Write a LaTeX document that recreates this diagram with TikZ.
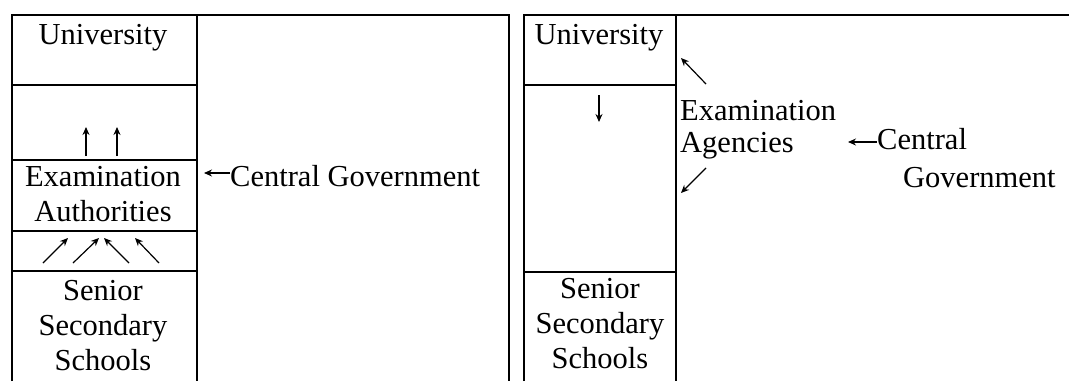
\documentclass[tikz,border=0pt]{standalone}
\usepackage{fontspec}
\setmainfont{Liberation Serif}
\usetikzlibrary{arrows.meta}
\begin{document}
\begin{tikzpicture}[x=1pt,y=-1pt,
  frame/.style={line width=1.7pt},
  lbl/.style={font=\fontsize{30.5}{35}\selectfont, inner sep=0pt, anchor=base},
  lblw/.style={lbl, anchor=base west},
  pointer/.style={line width=1.2pt, -{Stealth[length=8pt,width=7pt]}}]
\useasboundingbox (0,0) rectangle (1069,381);

% ---- left scheme: columns and cells ----
\draw[frame] (12,381) |- (509,15) -- (509,381);
\draw[frame] (197,15) -- (197,381);
\draw[frame] (12,85) -- (197,85);
\draw[frame] (12,160) -- (197,160);
\draw[frame] (12,231) -- (197,231);
\draw[frame] (12,271) -- (197,271);

\node[lbl] (uniL) at (103,44) {University};
\node[lbl] (examL) at (103,186) {Examination};
\node[lbl] (authL) at (103,221) {Authorities};
\node[lbl] (senL) at (103,300) {Senior};
\node[lbl] (secL) at (103,335) {Secondary};
\node[lbl] (schL) at (103,370) {Schools};
\node[lblw] (govL) at (230,186) {Central Government};

% upward flow to the university
\coordinate (u1a) at (86,156); \coordinate (u1b) at (86,127);
\coordinate (u2a) at (117,156); \coordinate (u2b) at (117,127);
\draw[pointer] (u1a) -- (u1b);
\draw[pointer] (u2a) -- (u2b);

% schools feeding the examination authorities
\coordinate (d1a) at (43,263);  \coordinate (d1b) at (68,238);
\coordinate (d2a) at (73,263);  \coordinate (d2b) at (99,238);
\coordinate (d3a) at (129,263); \coordinate (d3b) at (104,238);
\coordinate (d4a) at (159,263); \coordinate (d4b) at (135,238);
\draw[pointer] (d1a) -- (d1b);
\draw[pointer] (d2a) -- (d2b);
\draw[pointer] (d3a) -- (d3b);
\draw[pointer] (d4a) -- (d4b);

% central government acting on the authorities
\coordinate (gL) at (204,173);
\draw[pointer] (govL.west |- gL) -- (gL);

% ---- right scheme: columns and cells ----
\draw[frame] (524,381) |- (1069,15);
\draw[frame] (676,15) -- (676,381);
\draw[frame] (524,85) -- (676,85);
\draw[frame] (524,272) -- (676,272);

\node[lbl] (uniR) at (599,44) {University};
\node[lbl] (senR) at (600,298) {Senior};
\node[lbl] (secR) at (600,333) {Secondary};
\node[lbl] (schR) at (600,368) {Schools};
\node[lblw] (examR) at (680,120) {Examination};
\node[lblw] (agR) at (680,152) {Agencies};
\node[lblw] (cenR) at (877,149) {Central};
\node[lblw] (govR) at (903,187) {Government};

% university down to the schools
\coordinate (r0a) at (599,95); \coordinate (r0b) at (599,122);
\draw[pointer] (r0a) -- (r0b);

% agencies pointing to university and schools
\coordinate (r1a) at (706,84);  \coordinate (r1b) at (681,58);
\coordinate (r2a) at (706,168); \coordinate (r2b) at (681,193);
\draw[pointer] (r1a) -- (r1b);
\draw[pointer] (r2a) -- (r2b);

% central government acting on the agencies
\coordinate (gR) at (848,142);
\draw[pointer] (cenR.west |- gR) -- (gR);
\end{tikzpicture}
\end{document}
